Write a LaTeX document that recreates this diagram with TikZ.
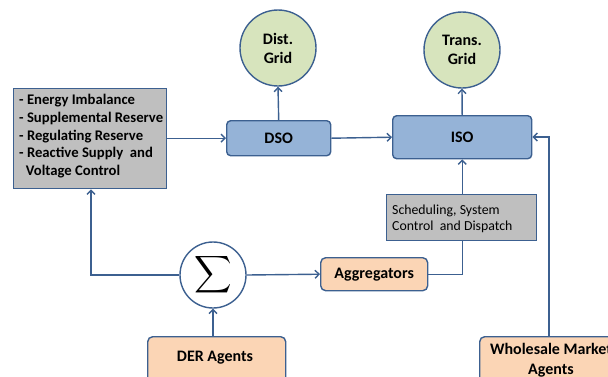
\documentclass[tikz,border=0pt]{standalone}
\usepackage{fontspec}
\setmainfont{Carlito}
\usetikzlibrary{arrows.meta}
\definecolor{edgeblue}{HTML}{3C6090}
\definecolor{boxblue}{HTML}{95B3D7}
\definecolor{boxgray}{HTML}{BFBFBF}
\definecolor{gridgreen}{HTML}{D7E4BD}
\definecolor{agentpeach}{HTML}{FBD5B5}
\tikzset{
  every node/.style={font=\bfseries\fontsize{16}{19}\selectfont},
  opbox/.style={draw=edgeblue, line width=1.4pt, fill=boxblue, rounded corners=4pt, anchor=north west, inner sep=0pt},
  agentbox/.style={draw=edgeblue, line width=1.4pt, fill=agentpeach, rounded corners=5pt, anchor=north west, inner sep=0pt},
  infobox/.style={draw=edgeblue, line width=1.4pt, fill=boxgray, anchor=north west, inner sep=0pt},
  gridcircle/.style={draw=edgeblue, line width=1.4pt, fill=gridgreen, circle, inner sep=0pt, minimum size=76pt, align=center},
  flow/.style={draw=edgeblue, line width=1.4pt, -{Straight Barb[length=4pt,width=8pt]}},
  link/.style={draw=edgeblue, line width=1.4pt}
}
\begin{document}
\begin{tikzpicture}[x=1pt,y=-1pt]
\useasboundingbox (0,0) rectangle (608,376);
\clip (0,0) rectangle (608,376);

% grids
\node[gridcircle] (dist) at (278,48) {Dist.\\Grid};
\node[gridcircle] (trans) at (462,50) {Trans.\\Grid};

% operators
\node[opbox, minimum width=104pt, minimum height=35pt] (dso) at (226,120) {DSO};
\node[opbox, minimum width=139pt, minimum height=43pt] (iso) at (392,115) {ISO};

% service list
\node[infobox, minimum width=153pt, minimum height=100pt] (svc) at (13,88) {};
\node[anchor=north west, align=left, inner sep=0pt, font=\bfseries\fontsize{14.7}{17.8}\selectfont] at (19,94)
  {- Energy Imbalance\\- Supplemental Reserve\\- Regulating Reserve\\- Reactive Supply\ \ and\\\ \ Voltage Control};

% scheduling
\node[infobox, minimum width=150pt, minimum height=46pt] (sched) at (386,194) {};
\node[anchor=north west, align=left, inner sep=0pt, font=\fontsize{13.8}{15.5}\selectfont] at (392,205)
  {Scheduling, System\\Control\ \ and Dispatch};

% aggregation
\node[draw=edgeblue, line width=1.4pt, fill=white, circle, minimum size=66pt, inner sep=0pt] (sum) at (213,275) {\scalebox{2.6}{$\displaystyle\sum$}};
\node[agentbox, minimum width=107pt, minimum height=33pt] (agg) at (320,257) {Aggregators};

% agents
\node[agentbox, minimum width=138pt, minimum height=60pt] (der) at (147,336) {};
\node at (215,358) {DER Agents};
\node[agentbox, minimum width=150pt, minimum height=60pt] (whole) at (479,336) {};
\node[align=center, font=\bfseries\fontsize{16}{20}\selectfont] at (551,360) {Wholesale Market\\Agents};

% connectors
\draw[flow] (svc.east |- dso.west) -- (dso.west);
\draw[flow] (dso.north) -- (dist.south);
\draw[flow] (dso.east) -- (iso.west);
\draw[flow] (iso.north) -- (trans.south);
\draw[flow] (sched.north -| iso.north) -- (iso.south);
\draw[link] (agg.east) -| (sched.south -| iso.north);
\draw[flow] (sum.east) -- (agg.west);
\coordinate (sumturn) at (91,275);
\draw[flow] (sum.west) -- (sumturn) -- (sumturn |- svc.south);
\draw[flow] (der.north -| sum.south) -- (sum.south);
\coordinate (wturn) at (549,137);
\draw[flow] (whole.north -| wturn) -- (wturn) -- (iso.east |- wturn);
\end{tikzpicture}
\end{document}
